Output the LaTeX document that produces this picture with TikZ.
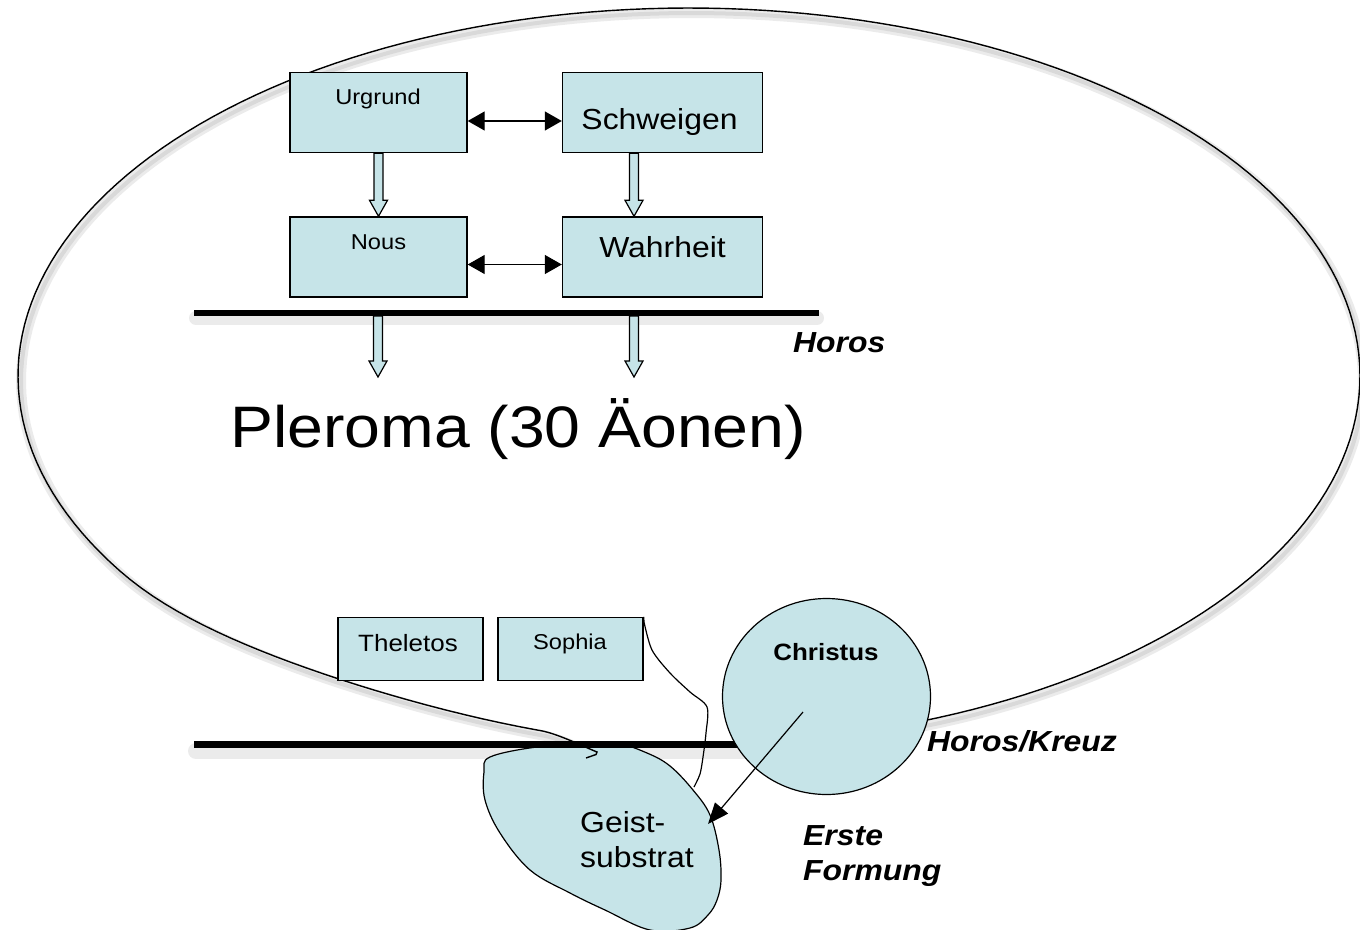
\documentclass[tikz,border=0pt]{standalone}
\usepackage{fontspec}
\setmainfont{Liberation Sans}[FakeStretch=1.1]
\usetikzlibrary{arrows.meta,calc,shapes.geometric}
\definecolor{aeon}{RGB}{198,228,232}

% outline of the Pleroma: a slightly dented elliptic arc, closed off by a hand-drawn hook
\newcommand\pleromaoutline{(586,758) -- (596,754.5) -- (597,752)
  .. controls (580,745) and (555,732.5) .. (538.1,730.2)
  -- plot[domain=-257:75, samples=200]
     ({689+671*cos(\x)},{376+368*sin(\x)-11*(max(0,1-((\x+240)/28)^2))^2})}

% hollow block arrow pointing down from #1 to #2
\newcommand\hollowarrow[2]{%
  \draw[hollow] ($(#1)+(-4.5,0)$) -- ($(#2)+(-4.5,-16)$) -- ($(#2)+(-9,-16)$) -- (#2)
    -- ($(#2)+(9,-16)$) -- ($(#2)+(4.5,-16)$) -- ($(#1)+(4.5,0)$) -- cycle;}

\begin{document}
\begin{tikzpicture}[x=1pt,y=-1pt,
  box/.style={draw=black, line width=1.4pt, fill=aeon, inner sep=0pt},
  hollow/.style={draw=black, line width=1.2pt, fill=aeon, line join=miter},
  dbl/.style={{Triangle[length=17pt,width=19pt]}-{Triangle[length=17pt,width=19pt]}, line width=1.3pt},
  txt/.style={inner sep=0pt, anchor=base},
  big/.style={txt, font=\fontsize{29}{34}\selectfont},
  small/.style={txt, font=\fontsize{21.5}{26}\selectfont},
  medium/.style={txt, font=\fontsize{23.6}{28}\selectfont},
  tag/.style={inner sep=0pt, anchor=base west, font=\fontsize{29}{34}\selectfont\bfseries\itshape},
  shade/.style={line cap=round, black, opacity=0.08}]
\useasboundingbox (0,0) rectangle (1360,929);

% soft shadow of the Pleroma outline and the two Horos bars
\begin{scope}[shift={(3,5)}]
  \draw[shade, line width=10pt] \pleromaoutline;
  \draw[shade, line width=4pt] \pleromaoutline;
\end{scope}
\draw[shade, line width=14pt] (196,318) -- (817,318);
\draw[shade, line width=16pt] (196,751) -- (760,751);

% Geist-substrat blob
\draw[fill=aeon, line width=1.2pt] plot[smooth cycle, tension=0.6] coordinates {
  (490,757) (537,747) (580,746) (618,744) (647,753) (670,766) (693,790) (710,815)
  (719,850) (721,880) (717,900) (708,915) (690,928) (650,930) (605,910) (570,893)
  (530,870) (500,833) (485,800) (484,772)};

% Horos bars
\coordinate (horosL) at (194,313);
\coordinate (horosR) at (819,313);
\coordinate (kreuzL) at (194,744.5);
\coordinate (kreuzR) at (790,744.5);
\draw[line width=6pt] (horosL) -- (horosR);
\draw[line width=7.5pt] (kreuzL) -- (kreuzR);

% the Pleroma
\draw[line width=1.4pt] \pleromaoutline;

% first tetrad
\node[box, minimum width=177pt, minimum height=80pt] (urgrund) at (378.5,112.5) {};
\node[box, minimum width=200pt, minimum height=80pt] (schweigen) at (662.5,112.5) {};
\node[box, minimum width=177pt, minimum height=80pt] (nous) at (378.5,257) {};
\node[box, minimum width=200pt, minimum height=80pt] (wahrheit) at (662.5,257) {};

\node[small] (turgrund) at (378,104) {Urgrund};
\node[big] (tschweigen) at (659.5,129) {Schweigen};
\node[small] (tnous) at (378.5,249) {Nous};
\node[big] (twahrheit) at (662.5,257) {Wahrheit};

\draw[dbl] ($(urgrund.east)+(0,8.5)$) -- ($(schweigen.west)+(0,8.5)$);
\draw[dbl] ($(nous.east)+(0,7.5)$) -- ($(wahrheit.west)+(0,7.5)$);

\coordinate (sdown) at ($(schweigen.south)+(-28.5,0)$);
\coordinate (wup) at (sdown |- wahrheit.north);
\hollowarrow{urgrund.south}{nous.north}
\hollowarrow{sdown}{wup}

% emanation through Horos
\coordinate (out1) at (378,316);
\coordinate (in1) at (378,377);
\coordinate (out2) at (634,316);
\coordinate (in2) at (634,377);
\hollowarrow{out1}{in1}
\hollowarrow{out2}{in2}

\node[tag] (horos) at (793,352) {Horos};
\node[inner sep=0pt, anchor=base west, font=\fontsize{58.5}{66}\selectfont] (pleroma) at (230,447) {Pleroma (30 Äonen)};

% last aeons
\node[box, minimum width=145pt, minimum height=63pt] (theletos) at (410.5,649) {};
\node[box, minimum width=145pt, minimum height=63pt] (sophia) at (570.5,649) {};
\node[medium] (ttheletos) at (408,651) {Theletos};
\node[small] (tsophia) at (570,649) {Sophia};

% Sophia falls out of the Pleroma
\coordinate (fallend) at (694,787);
\draw[line width=1.2pt] (sophia.north east) -- plot[smooth, tension=0.5] coordinates {
  (644,622) (652,650) (670,673) (690,692) (707,707) (706,733) (703,757) (700,774) (fallend)};

% Christus
\node[draw, fill=aeon, ellipse, line width=1.2pt, inner sep=0pt,
      minimum width=208pt, minimum height=196pt] (christus) at (826.5,696.5) {};
\node[medium, font=\fontsize{23.6}{28}\selectfont\bfseries] (tchristus) at (826,660) {Christus};
\coordinate (cfrom) at (803,712);
\coordinate (gtip) at (708,824);
\draw[-{Triangle[length=21pt,width=17pt]}, line width=1.2pt] (cfrom) -- (gtip);

\node[tag] (kreuz) at (927,751) {Horos/Kreuz};
\node[tag] (erste) at (803,845) {Erste};
\node[tag] (formung) at (803,880) {Formung};
\node[big, anchor=base west] (geist1) at (580,832) {Geist-};
\node[big, anchor=base west] (geist2) at (580,867) {substrat};
\end{tikzpicture}
\end{document}
